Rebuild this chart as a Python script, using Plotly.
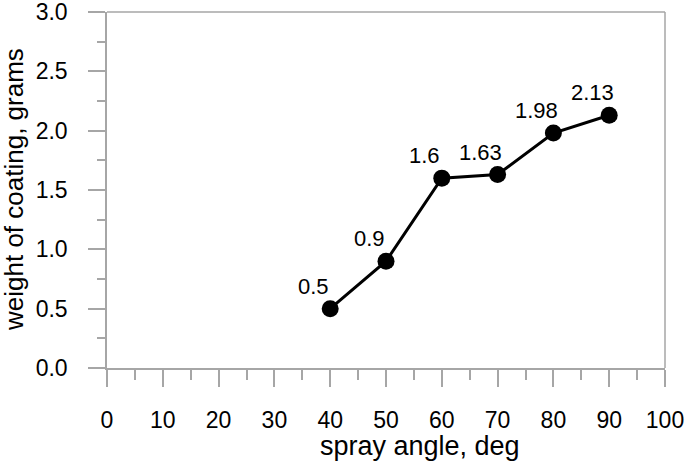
import plotly.graph_objects as go

# spray angle (deg) vs weight of coating (grams)
angles = [40, 50, 60, 70, 80, 90]
weights = [0.5, 0.9, 1.6, 1.63, 1.98, 2.13]
point_labels = ["0.5", "0.9", "1.6", "1.63", "1.98", "2.13"]

x_ticks = list(range(0, 101, 10))
y_ticks = [0.0, 0.5, 1.0, 1.5, 2.0, 2.5, 3.0]

AXIS_GREY = "#a6a6a6"
FONT = "Liberation Sans, Arial, sans-serif"

fig = go.Figure()

fig.add_trace(
    go.Scatter(
        x=angles,
        y=weights,
        mode="lines+markers",
        line=dict(color="black", width=3),
        marker=dict(color="black", size=17),
        cliponaxis=False,
        showlegend=False,
    )
)

# value labels sit up and to the left of each point
for a, w, lab in zip(angles, weights, point_labels):
    fig.add_annotation(
        x=a, y=w, text=lab, showarrow=False,
        xanchor="center", yanchor="bottom", xshift=-17, yshift=8,
        font=dict(size=22, color="black", family=FONT),
    )

# axis titles as annotations (x title sits right of centre in the original)
fig.add_annotation(
    text="spray angle, deg", xref="paper", yref="paper", x=0.5, y=0,
    xshift=34, yshift=-78, xanchor="center", yanchor="middle", showarrow=False,
    font=dict(size=27, color="black", family=FONT),
)
fig.add_annotation(
    text="weight of coating, grams", xref="paper", yref="paper", x=0, y=0.5,
    xshift=-93, xanchor="center", yanchor="middle", textangle=-90, showarrow=False,
    font=dict(size=26, color="black", family=FONT),
)

# top and right frame lines
fig.add_shape(type="line", xref="paper", yref="paper", x0=0, x1=1, y0=1, y1=1,
              line=dict(color=AXIS_GREY, width=1.5))
fig.add_shape(type="line", xref="paper", yref="paper", x0=1, x1=1, y0=0, y1=1,
              line=dict(color=AXIS_GREY, width=1.5))

fig.update_xaxes(
    range=[0, 100],
    tickvals=x_ticks,
    ticks="outside",
    ticklen=17,
    tickwidth=1.5,
    tickcolor=AXIS_GREY,
    minor=dict(dtick=5, ticks="outside", ticklen=10, tickwidth=1.5, tickcolor=AXIS_GREY),
    showline=True,
    linecolor=AXIS_GREY,
    linewidth=1.5,
    showgrid=False,
    zeroline=False,
    automargin=False,
    ticklabelstandoff=14,
    ticklabeloverflow="allow",
    tickfont=dict(size=23, color="black", family=FONT),
)
fig.update_yaxes(
    range=[0, 3],
    tickvals=y_ticks,
    ticktext=[f"{v:.1f}" for v in y_ticks],
    ticks="outside",
    ticklen=17,
    tickwidth=1.5,
    tickcolor=AXIS_GREY,
    minor=dict(dtick=0.25, ticks="outside", ticklen=8, tickwidth=1.5, tickcolor=AXIS_GREY),
    showline=True,
    linecolor=AXIS_GREY,
    linewidth=1.5,
    showgrid=False,
    zeroline=False,
    automargin=False,
    ticklabelstandoff=16,
    ticklabeloverflow="allow",
    tickfont=dict(size=23, color="black", family=FONT),
)

fig.update_layout(
    width=685,
    height=463,
    margin=dict(l=107, r=20, t=12, b=95),
    plot_bgcolor="white",
    paper_bgcolor="white",
    font=dict(family=FONT),
)

fig.write_html(
    "out.html",
    config={"displayModeBar": False},
    post_script="document.body.style.margin='0';",
)
